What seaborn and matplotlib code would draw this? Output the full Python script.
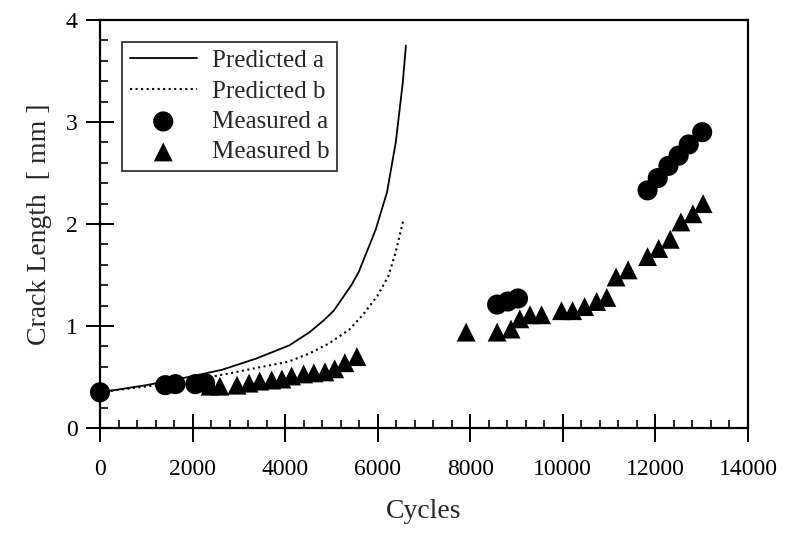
import matplotlib
matplotlib.use("Agg")
import matplotlib.pyplot as plt
import seaborn as sns
import pandas as pd

# Predicted crack growth curves (cycles, crack length in mm)
pred_a_cycles = [0, 1000, 1910, 2630, 3370, 4090, 4530, 4820, 5050, 5430, 5590,
                 5820, 5960, 6200, 6390, 6540, 6610]
pred_a_len = [0.35, 0.42, 0.50, 0.57, 0.68, 0.81, 0.94, 1.05, 1.15, 1.40, 1.53,
              1.79, 1.95, 2.31, 2.80, 3.38, 3.75]

pred_b_cycles = [0, 680, 1410, 2130, 2850, 3500, 4070, 4520, 4950, 5400, 5680,
                 6000, 6230, 6380, 6550]
pred_b_len = [0.35, 0.39, 0.43, 0.48, 0.54, 0.60, 0.65, 0.73, 0.83, 0.97, 1.11,
              1.30, 1.49, 1.71, 2.03]

# Measured crack lengths
meas_a_cycles = [0, 1410, 1630, 2060, 2270, 8580, 8810, 9030,
                 11830, 12050, 12280, 12500, 12720, 13010]
meas_a_len = [0.35, 0.42, 0.43, 0.43, 0.44, 1.21, 1.24, 1.27,
              2.33, 2.45, 2.57, 2.67, 2.78, 2.90]

meas_b_cycles = [2380, 2590, 2960, 3220, 3450, 3710, 3930, 4140, 4400, 4620,
                 4860, 5070, 5290, 5550,
                 7910, 8580, 8880, 9070, 9290, 9540, 9970, 10210, 10470, 10730,
                 10950, 11150, 11410, 11830, 12070, 12320, 12550, 12810, 13030]
meas_b_len = [0.41, 0.41, 0.42, 0.44, 0.46, 0.47, 0.48, 0.51, 0.53, 0.54,
              0.55, 0.58, 0.64, 0.70,
              0.94, 0.94, 0.97, 1.07, 1.11, 1.11, 1.15, 1.15, 1.19, 1.24,
              1.28, 1.48, 1.55, 1.68, 1.76, 1.85, 2.02, 2.10, 2.20]

x_ticks = [0, 2000, 4000, 6000, 8000, 10000, 12000, 14000]
y_ticks = [0, 1, 2, 3, 4]

sns.set_style("ticks")
plt.rcParams["font.family"] = ["Liberation Serif", "DejaVu Serif"]

fig = plt.figure(figsize=(7.89, 5.33), dpi=100)
ax = fig.add_axes([100 / 789, 1 - 428 / 533, 648 / 789, 408 / 533])

pa = pd.DataFrame({"Cycles": pred_a_cycles, "Length": pred_a_len})
pb = pd.DataFrame({"Cycles": pred_b_cycles, "Length": pred_b_len})
ma = pd.DataFrame({"Cycles": meas_a_cycles, "Length": meas_a_len})
mb = pd.DataFrame({"Cycles": meas_b_cycles, "Length": meas_b_len})

sns.lineplot(data=pa, x="Cycles", y="Length", ax=ax, color="black",
             linewidth=1.3, label="Predicted a", sort=False)
sns.lineplot(data=pb, x="Cycles", y="Length", ax=ax, color="black",
             linewidth=1.5, linestyle=":", label="Predicted b", sort=False)
sns.scatterplot(data=ma, x="Cycles", y="Length", ax=ax, color="black",
                marker="o", s=210, edgecolor="none", label="Measured a",
                clip_on=False, zorder=3)
sns.scatterplot(data=mb, x="Cycles", y="Length", ax=ax, color="black",
                marker="^", s=185, edgecolor="none", label="Measured b",
                clip_on=False, zorder=3)

ax.set_xlim(0, 14000)
ax.set_ylim(0, 4)
ax.set_xticks(x_ticks)
ax.set_xticklabels([str(t) for t in x_ticks])
ax.set_yticks(y_ticks)
ax.set_yticklabels([str(t) for t in y_ticks])
ax.set_xticks([t for t in range(0, 14001, 400) if t % 2000 != 0], minor=True)
ax.set_yticks([i * 0.2 for i in range(21) if i % 5 != 0], minor=True)

for side in ["left", "bottom", "top", "right"]:
    ax.spines[side].set_linewidth(1.6)
    ax.spines[side].set_color("black")

ax.tick_params(axis="both", which="major", direction="inout", length=20,
               width=1.4, color="black", labelsize=17, labelcolor="black")
ax.tick_params(axis="both", which="minor", direction="in", length=6,
               width=1.2, color="black")
ax.tick_params(axis="x", which="major", pad=12)
ax.tick_params(axis="y", which="major", pad=6)

ax.set_xlabel("Cycles", fontsize=20, labelpad=14)
ax.set_ylabel("Crack Length  [ mm ]", fontsize=20, labelpad=10)

handles, labels = ax.get_legend_handles_labels()
leg = ax.legend(handles, labels, loc="upper left",
                bbox_to_anchor=(22 / 648, 1 - 22 / 408), borderaxespad=0,
                fontsize=18, frameon=True, fancybox=False, handlelength=2.7,
                handletextpad=0.6, labelspacing=0.32, borderpad=0.3,
                scatterpoints=1)
leg.get_frame().set_edgecolor("black")
leg.get_frame().set_linewidth(1.3)

fig.savefig("out.png", dpi=100)
